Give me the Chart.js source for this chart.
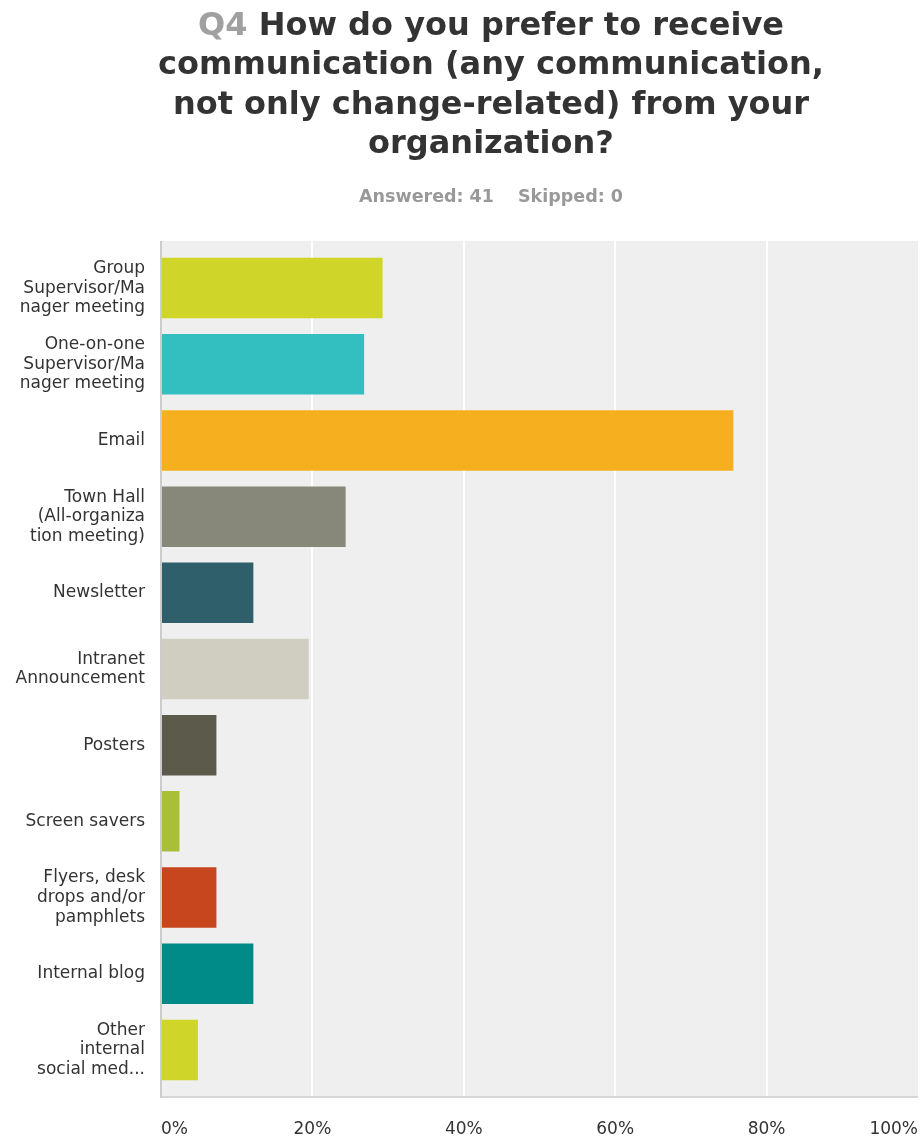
<!DOCTYPE html>
<html>
<head>
<meta charset="utf-8">
<script src="https://cdn.jsdelivr.net/npm/chart.js@4.4.1/dist/chart.umd.min.js"></script>
<style>
    html, body { margin: 0; padding: 0; background: #fff; overflow: hidden; }
    .wrap { position: relative; width: 920px; height: 1139px; }
    .title {
        position: absolute; left: 62px; width: 858px; top: 5px;
        text-align: center; font-family: "DejaVu Sans", sans-serif; font-weight: bold;
        font-size: 32px; line-height: 39.3px; color: #333;
    }
    .title .q { color: #a0a0a0; }
    .sub {
        position: absolute; left: 62px; width: 858px; top: 185px;
        text-align: center; font-family: "DejaVu Sans", sans-serif; font-weight: bold;
        font-size: 17.5px; line-height: 22px; color: #999;
    }
    .sub span + span { margin-left: 24px; }
    canvas { position: absolute; left: 0; top: 0; }
</style>
</head>
<body>
<div class="wrap">
    <canvas id="chart" width="920" height="1139"></canvas>
    <div class="title"><span class="q">Q4</span> How do you prefer to receive<br>communication (any communication,<br>not only change-related) from your<br>organization?</div>
    <div class="sub"><span>Answered: 41</span><span>Skipped: 0</span></div>
</div>
<script>
// answer options (multi-line labels as shown on the axis)
const categories = [
    ['Group', 'Supervisor/Ma', 'nager meeting'],
    ['One-on-one', 'Supervisor/Ma', 'nager meeting'],
    'Email',
    ['Town Hall', '(All-organiza', 'tion meeting)'],
    'Newsletter',
    ['Intranet', 'Announcement'],
    'Posters',
    'Screen savers',
    ['Flyers, desk', 'drops and/or', 'pamphlets'],
    'Internal blog',
    ['Other', 'internal', 'social med...']
];
// percent of respondents
const percents = [29.27, 26.83, 75.61, 24.39, 12.20, 19.51, 7.32, 2.44, 7.32, 12.20, 4.88];
const barColors = ['#d0d629', '#33bec0', '#f6b01f', '#88887a', '#2e5f6b', '#cfcec0', '#5c5a4b', '#a9bf38', '#c8461d', '#008a88', '#d0d629'];
const xTicks = [0, 20, 40, 60, 80, 100];

const PAD = 9; // plot background extends past the first/last category

const plotBackground = {
    id: 'plotBackground',
    beforeDraw(chart) {
        const { ctx, chartArea: a, scales: { x } } = chart;
        const top = a.top - PAD, bottom = a.bottom + PAD;
        ctx.save();
        ctx.fillStyle = '#efefef';
        ctx.fillRect(a.left, top, a.right - a.left, bottom - top);
        ctx.strokeStyle = '#ffffff';
        ctx.lineWidth = 2;
        xTicks.slice(1, -1).forEach(v => {
            const px = Math.round(x.getPixelForValue(v));
            ctx.beginPath();
            ctx.moveTo(px, top);
            ctx.lineTo(px, bottom);
            ctx.stroke();
        });
        ctx.restore();
    },
    afterDatasetsDraw(chart) {
        const { ctx, chartArea: a } = chart;
        const top = a.top - PAD, bottom = a.bottom + PAD;
        ctx.save();
        ctx.strokeStyle = '#d6d6d6';
        ctx.lineWidth = 2;
        ctx.beginPath();
        ctx.moveTo(a.left, bottom);
        ctx.lineTo(a.right, bottom);
        ctx.stroke();
        ctx.strokeStyle = '#cccccc';
        ctx.beginPath();
        ctx.moveTo(a.left, top);
        ctx.lineTo(a.left, bottom + 1);
        ctx.stroke();
        ctx.restore();
    }
};

new Chart(document.getElementById('chart'), {
    type: 'bar',
    data: {
        labels: categories,
        datasets: [{
            data: percents,
            backgroundColor: barColors,
            borderWidth: 0,
            barPercentage: 0.794,
            categoryPercentage: 1
        }]
    },
    options: {
        indexAxis: 'y',
        responsive: false,
        animation: false,
        layout: { padding: { top: 250, right: 2, bottom: 0, left: 0 } },
        plugins: { legend: { display: false }, tooltip: { enabled: false } },
        scales: {
            x: {
                min: 0, max: 100,
                afterBuildTicks: (scale) => { scale.ticks = xTicks.map(v => ({ value: v })); },
                afterFit: (scale) => {
                    scale.height = 51;
                    scale.paddingLeft = 0;
                    scale.paddingRight = 0;
                },
                grid: { display: false, drawTicks: false },
                border: { display: false },
                ticks: {
                    align: 'inner',
                    padding: 31,
                    color: '#333',
                    font: { family: 'DejaVu Sans', size: 17 },
                    callback: (v) => v + '%'
                }
            },
            y: {
                afterFit: (scale) => { scale.width = 161; },
                grid: { display: false, drawTicks: false },
                border: { display: false },
                ticks: {
                    padding: 16,
                    color: '#333',
                    font: { family: 'DejaVu Sans', size: 17, lineHeight: 1.15 }
                }
            }
        }
    },
    plugins: [plotBackground]
});
</script>
</body>
</html>
